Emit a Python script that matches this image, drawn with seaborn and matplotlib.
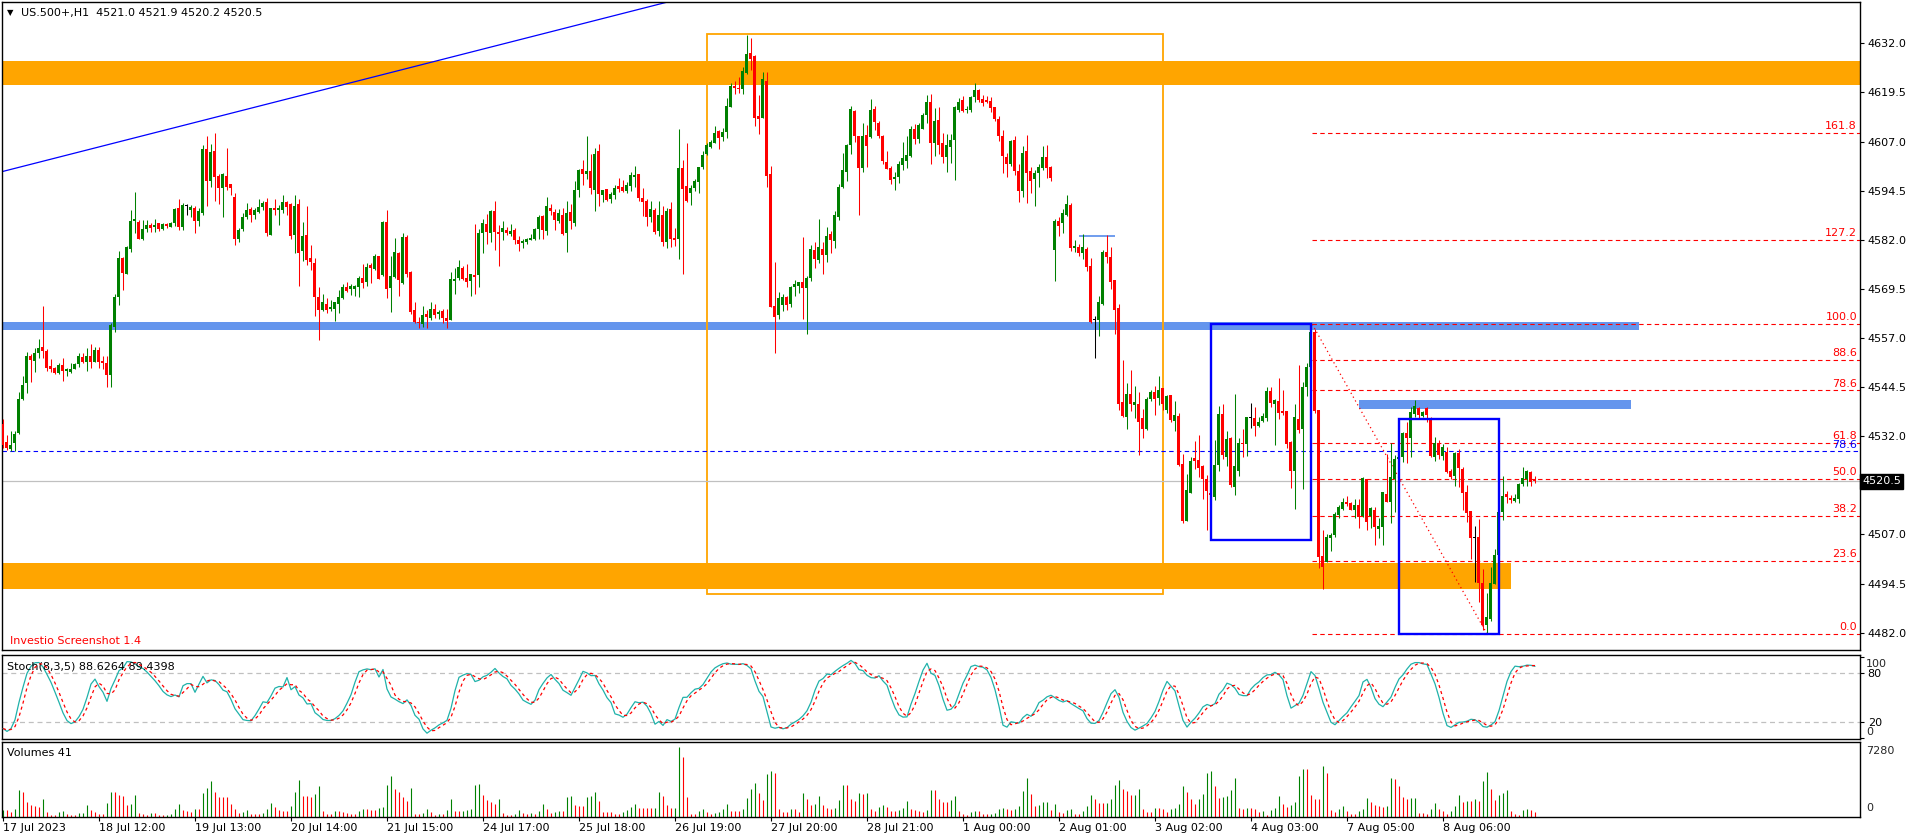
import numpy as np
import pandas as pd
import matplotlib
matplotlib.use("Agg")
import matplotlib.pyplot as plt
from matplotlib.patches import Rectangle
from matplotlib.transforms import blended_transform_factory
import seaborn as sns

# === PRICE DATA (US.500+, H1), one value per bar ===
opens = [
    4535.1, 4530.6, 4528.7, 4530.2, 4532.7, 4541.6, 4545.5, 4552.4, 4551.2, 4553.3,
    4554.6, 4553.8, 4549.9, 4549.4, 4548.2, 4550.1, 4548.7, 4548.4, 4549.2, 4550.3,
    4552.2, 4551.0, 4552.4, 4551.0, 4554.0, 4551.2, 4550.7, 4547.6, 4559.7, 4567.5,
    4577.3, 4573.4, 4579.6, 4586.8, 4586.6, 4582.3, 4584.7, 4585.7, 4585.3, 4586.2,
    4584.7, 4586.0, 4585.3, 4586.2, 4590.2, 4585.3, 4590.6, 4589.6, 4590.2, 4586.8,
    4588.9, 4605.1, 4597.0, 4604.6, 4598.2, 4595.1, 4598.2, 4596.2, 4592.8, 4582.3,
    4584.7, 4587.9, 4589.7, 4588.3, 4589.1, 4590.4, 4591.7, 4583.2, 4590.2, 4589.6,
    4589.6, 4591.7, 4591.0, 4583.2, 4591.0, 4579.2, 4583.2, 4577.3, 4576.2, 4567.5,
    4564.1, 4565.6, 4564.4, 4564.4, 4565.6, 4567.3, 4569.9, 4569.4, 4569.4, 4570.0,
    4572.2, 4571.3, 4575.6, 4574.5, 4577.9, 4573.0, 4586.5, 4569.8, 4572.4, 4578.7,
    4571.1, 4582.7, 4573.8, 4564.1, 4561.1, 4560.6, 4563.1, 4562.2, 4564.5, 4563.1,
    4563.9, 4562.2, 4561.6, 4571.5, 4572.2, 4574.9, 4572.2, 4571.5, 4573.0, 4573.0,
    4583.8, 4586.0, 4583.8, 4589.3, 4584.0, 4584.0, 4584.5, 4583.5, 4584.5, 4581.9,
    4581.2, 4581.5, 4581.9, 4582.3, 4584.7, 4588.1, 4584.2, 4590.2, 4589.1, 4586.8,
    4588.3, 4583.8, 4589.1, 4586.3, 4594.7, 4599.9, 4598.7, 4599.5, 4594.7, 4604.6,
    4593.4, 4594.9, 4592.4, 4593.5, 4595.7, 4595.3, 4594.5, 4595.8, 4598.0, 4598.7,
    4592.7, 4591.9, 4587.7, 4589.6, 4584.2, 4588.3, 4581.4, 4589.8, 4582.5, 4582.2,
    4600.2, 4595.8, 4594.0, 4595.1, 4596.8, 4600.4, 4603.8, 4605.7, 4606.7, 4609.7,
    4608.2, 4609.3, 4615.9, 4621.0, 4620.7, 4620.4, 4624.5, 4629.4, 4628.8, 4613.5,
    4613.1, 4622.5, 4598.7, 4565.1, 4562.8, 4565.4, 4567.5, 4565.6, 4570.0, 4570.2,
    4571.2, 4569.8, 4572.2, 4579.4, 4576.8, 4579.6, 4578.1, 4583.5, 4581.8, 4587.9,
    4595.3, 4599.3, 4606.1, 4614.8, 4608.4, 4600.3, 4608.6, 4608.2, 4615.3, 4611.8,
    4608.4, 4601.9, 4600.3, 4597.4, 4597.9, 4601.0, 4602.1, 4603.3, 4610.2, 4607.6,
    4610.3, 4613.7, 4617.1, 4606.7, 4612.5, 4606.5, 4603.0, 4605.7, 4607.4, 4615.0,
    4617.6, 4615.0, 4615.0, 4618.4, 4620.1, 4617.7, 4617.6, 4617.3, 4615.7, 4612.7,
    4608.5, 4603.0, 4601.3, 4607.4, 4599.6, 4594.5, 4604.6, 4599.5, 4597.5, 4599.1,
    4600.2, 4603.0, 4600.4, 4579.4, 4586.8, 4586.2, 4588.3, 4590.8, 4580.0, 4580.1,
    4578.5, 4579.6, 4575.3, 4561.7, 4561.7, 4565.6, 4579.0, 4577.5, 4571.8, 4564.7,
    4540.6, 4537.0, 4542.7, 4539.9, 4540.2, 4536.7, 4533.8, 4541.6, 4543.2, 4541.8,
    4544.2, 4538.8, 4542.5, 4535.9, 4537.1, 4524.9, 4510.5, 4517.6, 4526.5, 4525.9,
    4524.4, 4521.1, 4517.6, 4516.6, 4524.7, 4537.7, 4526.8, 4531.6, 4519.2, 4523.2,
    4530.4, 4530.0, 4536.6, 4536.6, 4534.6, 4536.0, 4536.7, 4543.5, 4540.2, 4541.0,
    4538.4, 4538.4, 4530.6, 4523.2, 4536.4, 4533.8, 4544.4, 4549.7, 4558.6, 4538.7,
    4501.5, 4500.1, 4506.0, 4506.9, 4512.0, 4513.5, 4515.3, 4514.9, 4513.2, 4514.5,
    4511.7, 4521.1, 4511.8, 4513.2, 4508.4, 4509.0, 4517.3, 4515.3, 4521.1, 4526.1,
    4526.8, 4532.7, 4531.5, 4537.6, 4539.3, 4537.2, 4539.1, 4536.4, 4526.8, 4530.4,
    4527.0, 4528.1, 4523.2, 4521.9, 4527.8, 4523.7, 4517.7, 4513.0, 4506.0, 4506.3,
    4494.6, 4484.0, 4485.4, 4494.3, 4501.8, 4512.6, 4517.3, 4516.4, 4515.6, 4516.0,
    4519.8, 4521.1, 4522.8, 4521.0,
]
highs = [
    4536.4, 4532.3, 4533.3, 4533.4, 4543.2, 4547.3, 4553.5, 4552.9, 4554.4, 4556.7,
    4565.1, 4554.2, 4551.6, 4549.7, 4550.6, 4551.8, 4549.3, 4550.6, 4550.6, 4553.1,
    4553.3, 4554.4, 4555.5, 4554.8, 4554.8, 4552.4, 4552.4, 4560.7, 4568.2, 4579.1,
    4577.7, 4580.5, 4589.6, 4594.1, 4587.0, 4587.0, 4587.0, 4586.3, 4587.4, 4586.3,
    4586.3, 4586.3, 4586.6, 4590.2, 4592.4, 4591.3, 4591.1, 4590.8, 4590.6, 4590.2,
    4606.1, 4608.5, 4606.4, 4609.2, 4598.7, 4599.1, 4605.3, 4596.3, 4593.8, 4585.1,
    4588.9, 4591.3, 4590.4, 4590.0, 4592.3, 4591.8, 4592.5, 4590.2, 4592.4, 4590.8,
    4593.4, 4591.8, 4591.3, 4593.5, 4592.4, 4586.4, 4590.6, 4580.7, 4577.3, 4570.0,
    4568.2, 4567.3, 4566.7, 4566.1, 4569.1, 4570.7, 4571.2, 4570.7, 4570.5, 4572.8,
    4575.8, 4576.2, 4576.0, 4578.4, 4577.9, 4586.8, 4589.6, 4577.9, 4582.5, 4578.9,
    4583.8, 4583.2, 4574.0, 4566.2, 4562.4, 4565.1, 4564.1, 4566.2, 4565.6, 4564.1,
    4564.4, 4564.4, 4573.9, 4574.7, 4576.8, 4575.4, 4575.8, 4573.4, 4586.0, 4584.7,
    4587.3, 4588.5, 4589.6, 4591.8, 4585.7, 4586.8, 4585.3, 4586.0, 4584.9, 4582.9,
    4582.3, 4582.5, 4583.5, 4585.1, 4588.3, 4588.3, 4592.8, 4591.0, 4589.8, 4589.7,
    4590.2, 4591.9, 4591.1, 4596.9, 4600.0, 4602.3, 4608.4, 4603.8, 4605.4, 4606.4,
    4594.7, 4594.9, 4594.1, 4595.9, 4597.6, 4597.2, 4596.6, 4599.2, 4600.8, 4598.7,
    4595.1, 4592.4, 4591.9, 4590.0, 4591.9, 4590.6, 4590.2, 4591.5, 4584.9, 4610.2,
    4602.3, 4606.7, 4595.9, 4597.4, 4600.6, 4604.6, 4606.5, 4607.4, 4610.9, 4609.9,
    4610.5, 4618.0, 4622.0, 4622.4, 4623.5, 4625.9, 4634.1, 4633.4, 4629.0, 4618.8,
    4624.8, 4624.6, 4600.8, 4576.4, 4568.8, 4568.1, 4567.8, 4570.2, 4571.7, 4571.3,
    4582.8, 4572.9, 4580.7, 4581.5, 4587.2, 4581.5, 4585.3, 4584.3, 4589.2, 4596.2,
    4604.2, 4606.4, 4616.1, 4615.0, 4608.4, 4611.8, 4611.2, 4617.8, 4616.0, 4612.2,
    4608.7, 4604.6, 4600.8, 4599.3, 4602.1, 4607.0, 4608.4, 4611.0, 4611.4, 4611.8,
    4614.2, 4618.8, 4619.1, 4615.4, 4615.7, 4609.2, 4608.8, 4608.9, 4616.0, 4618.0,
    4618.6, 4616.0, 4618.6, 4622.0, 4620.3, 4618.8, 4618.6, 4618.2, 4615.9, 4613.5,
    4609.8, 4604.0, 4607.4, 4608.5, 4601.3, 4605.9, 4608.6, 4600.6, 4599.7, 4601.3,
    4605.9, 4606.1, 4600.8, 4587.2, 4587.7, 4589.8, 4593.4, 4591.3, 4581.9, 4580.9,
    4583.5, 4580.1, 4577.3, 4562.6, 4567.7, 4579.4, 4583.2, 4580.1, 4571.8, 4565.6,
    4551.4, 4545.6, 4548.8, 4544.8, 4543.2, 4538.9, 4542.1, 4543.8, 4544.8, 4547.3,
    4544.2, 4542.5, 4542.5, 4541.0, 4537.8, 4527.5, 4522.4, 4526.6, 4530.8, 4532.3,
    4524.8, 4522.1, 4517.9, 4531.0, 4539.7, 4540.2, 4533.4, 4531.7, 4542.7, 4531.6,
    4533.8, 4537.0, 4540.4, 4539.4, 4537.0, 4538.0, 4544.4, 4544.4, 4541.6, 4546.7,
    4543.8, 4538.4, 4530.8, 4540.2, 4550.1, 4545.9, 4550.7, 4560.3, 4559.2, 4538.7,
    4508.1, 4507.1, 4507.3, 4512.6, 4514.5, 4516.4, 4516.8, 4515.2, 4515.9, 4515.9,
    4521.7, 4521.1, 4514.1, 4514.1, 4511.1, 4517.7, 4527.5, 4530.2, 4527.2, 4527.3,
    4533.2, 4535.7, 4539.5, 4541.2, 4539.5, 4538.5, 4539.5, 4537.0, 4531.7, 4531.0,
    4530.0, 4529.3, 4523.7, 4528.1, 4528.7, 4524.2, 4519.6, 4513.0, 4509.2, 4510.9,
    4498.2, 4492.0, 4498.8, 4503.3, 4513.0, 4521.9, 4518.1, 4517.0, 4517.3, 4520.0,
    4524.1, 4523.4, 4523.1, 4521.9,
]
lows = [
    4528.9, 4528.5, 4528.3, 4528.2, 4532.5, 4541.2, 4543.1, 4545.9, 4548.4, 4551.8,
    4551.8, 4548.7, 4548.4, 4547.8, 4547.8, 4546.1, 4547.3, 4548.2, 4549.0, 4549.7,
    4550.6, 4548.7, 4549.4, 4550.8, 4549.4, 4549.0, 4544.6, 4544.6, 4558.4, 4565.4,
    4569.2, 4573.3, 4579.0, 4583.6, 4582.1, 4581.9, 4584.0, 4584.0, 4584.0, 4584.2,
    4584.6, 4585.1, 4585.2, 4585.6, 4584.5, 4584.6, 4588.3, 4587.9, 4583.8, 4585.5,
    4588.3, 4590.6, 4595.5, 4591.9, 4591.0, 4587.9, 4594.7, 4593.4, 4580.7, 4581.5,
    4584.3, 4587.4, 4586.6, 4587.4, 4588.9, 4589.6, 4583.0, 4583.2, 4588.3, 4585.7,
    4588.9, 4588.3, 4582.3, 4578.7, 4570.2, 4576.7, 4575.6, 4574.3, 4562.6, 4556.5,
    4563.9, 4563.4, 4563.9, 4561.4, 4563.4, 4566.9, 4568.6, 4568.0, 4567.8, 4567.5,
    4569.8, 4570.3, 4571.1, 4574.3, 4572.0, 4572.8, 4567.2, 4563.7, 4572.2, 4567.7,
    4570.7, 4572.6, 4563.1, 4560.9, 4559.6, 4559.9, 4559.6, 4561.6, 4562.0, 4561.8,
    4560.9, 4559.6, 4561.6, 4568.2, 4571.8, 4571.8, 4570.0, 4567.8, 4568.2, 4570.0,
    4578.7, 4580.9, 4581.5, 4579.4, 4575.4, 4581.9, 4583.2, 4582.9, 4580.9, 4579.2,
    4580.0, 4580.9, 4581.9, 4581.9, 4582.3, 4582.2, 4583.2, 4588.3, 4584.5, 4586.2,
    4583.2, 4578.9, 4584.7, 4585.5, 4593.0, 4595.9, 4597.5, 4593.6, 4589.3, 4590.6,
    4591.7, 4591.9, 4591.4, 4592.4, 4594.1, 4594.1, 4594.0, 4594.5, 4595.5, 4591.9,
    4588.1, 4585.5, 4586.6, 4583.5, 4582.9, 4580.4, 4580.0, 4580.2, 4580.5, 4577.1,
    4573.3, 4591.7, 4590.8, 4594.4, 4594.0, 4599.9, 4603.6, 4605.3, 4606.5, 4605.0,
    4607.1, 4607.8, 4615.7, 4619.1, 4619.3, 4619.1, 4624.1, 4625.2, 4611.0, 4608.9,
    4612.9, 4595.5, 4565.0, 4553.3, 4561.8, 4563.9, 4564.1, 4565.0, 4567.7, 4568.5,
    4561.9, 4557.9, 4571.6, 4574.7, 4576.2, 4573.3, 4576.4, 4578.7, 4579.8, 4586.9,
    4595.1, 4597.0, 4603.8, 4607.0, 4588.3, 4599.3, 4600.6, 4607.8, 4609.8, 4607.8,
    4601.2, 4599.9, 4596.2, 4594.7, 4596.5, 4599.7, 4600.3, 4603.1, 4606.4, 4606.7,
    4610.1, 4611.8, 4601.3, 4603.3, 4603.7, 4601.6, 4599.3, 4601.6, 4597.2, 4614.6,
    4614.6, 4614.2, 4614.6, 4617.1, 4617.1, 4616.0, 4616.7, 4614.6, 4612.3, 4607.2,
    4599.1, 4598.0, 4600.8, 4598.5, 4591.7, 4593.0, 4591.3, 4594.0, 4590.7, 4595.5,
    4599.7, 4597.6, 4597.0, 4571.6, 4583.0, 4583.6, 4588.0, 4579.2, 4579.0, 4577.9,
    4577.1, 4574.1, 4560.7, 4552.0, 4557.6, 4565.4, 4576.2, 4569.5, 4558.0, 4538.7,
    4536.8, 4533.8, 4538.5, 4536.7, 4527.2, 4531.6, 4533.6, 4541.0, 4537.4, 4539.9,
    4538.7, 4538.0, 4535.5, 4533.4, 4524.4, 4510.0, 4510.5, 4517.6, 4523.6, 4521.5,
    4516.0, 4508.1, 4516.8, 4515.8, 4523.2, 4526.2, 4524.4, 4519.2, 4517.0, 4522.0,
    4526.8, 4527.0, 4534.0, 4532.1, 4534.4, 4535.5, 4536.0, 4539.4, 4529.8, 4536.4,
    4537.4, 4528.9, 4518.9, 4513.5, 4532.7, 4518.5, 4542.2, 4549.5, 4537.8, 4498.4,
    4493.0, 4500.1, 4502.9, 4506.4, 4511.1, 4513.1, 4514.2, 4513.2, 4511.1, 4508.7,
    4511.5, 4508.2, 4508.7, 4504.3, 4506.0, 4504.3, 4515.3, 4510.0, 4512.8, 4525.5,
    4525.5, 4525.1, 4526.6, 4536.8, 4536.3, 4536.8, 4535.7, 4526.8, 4525.7, 4526.1,
    4526.0, 4522.6, 4521.1, 4519.4, 4519.2, 4513.1, 4510.3, 4500.8, 4495.0, 4489.9,
    4482.7, 4481.8, 4485.1, 4494.3, 4501.8, 4510.7, 4514.9, 4514.9, 4515.2, 4514.9,
    4519.3, 4519.4, 4519.4, 4520.2,
]
closes = [
    4529.8, 4528.9, 4529.8, 4532.6, 4541.6, 4545.0, 4552.4, 4551.4, 4553.3, 4554.4,
    4553.8, 4549.4, 4549.0, 4548.0, 4550.1, 4548.7, 4549.0, 4549.2, 4550.3, 4552.4,
    4551.0, 4552.4, 4551.0, 4554.0, 4551.0, 4550.6, 4547.6, 4560.3, 4567.5, 4577.3,
    4573.6, 4580.2, 4586.8, 4587.3, 4582.3, 4584.7, 4585.7, 4585.1, 4585.7, 4584.7,
    4586.0, 4585.6, 4586.2, 4589.8, 4585.3, 4590.8, 4590.6, 4590.4, 4586.8, 4589.4,
    4605.1, 4597.0, 4604.4, 4598.0, 4595.1, 4598.7, 4595.5, 4595.2, 4582.2, 4584.5,
    4587.9, 4589.6, 4588.3, 4589.6, 4590.4, 4591.4, 4583.6, 4590.0, 4589.6, 4590.0,
    4591.7, 4590.4, 4582.9, 4590.6, 4578.7, 4582.9, 4576.8, 4576.4, 4567.5, 4564.1,
    4566.1, 4564.1, 4565.0, 4566.1, 4567.5, 4569.9, 4569.0, 4570.2, 4570.2, 4572.2,
    4570.9, 4575.0, 4574.7, 4577.9, 4572.0, 4586.5, 4569.5, 4572.8, 4578.9, 4571.7,
    4582.7, 4573.4, 4563.6, 4561.1, 4560.9, 4562.8, 4562.4, 4564.5, 4562.8, 4563.7,
    4562.2, 4561.4, 4572.0, 4572.0, 4575.1, 4572.0, 4571.2, 4573.3, 4572.6, 4583.8,
    4586.2, 4584.0, 4589.3, 4584.0, 4583.5, 4585.0, 4583.8, 4584.2, 4581.9, 4580.9,
    4581.7, 4582.2, 4582.5, 4584.7, 4587.9, 4584.5, 4590.6, 4589.3, 4587.0, 4588.9,
    4583.5, 4588.7, 4586.8, 4594.7, 4599.7, 4598.7, 4599.5, 4595.2, 4603.8, 4593.6,
    4594.7, 4592.1, 4593.6, 4595.2, 4594.8, 4594.4, 4595.9, 4598.5, 4598.5, 4592.7,
    4591.7, 4587.9, 4589.8, 4584.0, 4588.3, 4581.4, 4589.3, 4582.3, 4581.9, 4600.2,
    4595.0, 4591.9, 4595.1, 4596.9, 4600.6, 4603.6, 4606.1, 4607.0, 4609.1, 4607.8,
    4609.3, 4616.0, 4621.1, 4620.5, 4620.4, 4624.9, 4629.3, 4627.9, 4612.9, 4612.7,
    4622.8, 4598.3, 4565.0, 4562.3, 4567.3, 4567.5, 4565.4, 4569.9, 4570.7, 4571.2,
    4569.6, 4572.2, 4579.6, 4577.1, 4580.1, 4578.1, 4583.0, 4581.9, 4588.3, 4595.3,
    4599.7, 4606.1, 4615.3, 4608.4, 4600.3, 4608.4, 4605.9, 4615.0, 4612.0, 4608.4,
    4602.1, 4600.0, 4597.2, 4598.0, 4601.3, 4602.9, 4603.6, 4610.2, 4607.6, 4611.2,
    4613.7, 4617.1, 4606.5, 4612.3, 4606.1, 4603.1, 4606.1, 4607.4, 4615.7, 4617.0,
    4614.8, 4615.3, 4618.2, 4620.1, 4617.6, 4616.9, 4617.0, 4615.6, 4612.6, 4608.5,
    4603.4, 4601.3, 4607.1, 4599.6, 4594.5, 4604.0, 4599.1, 4597.0, 4599.1, 4600.6,
    4603.0, 4600.2, 4597.8, 4586.8, 4585.6, 4588.9, 4591.1, 4580.0, 4580.4, 4578.5,
    4580.1, 4575.1, 4561.0, 4561.7, 4566.2, 4579.0, 4577.7, 4571.3, 4564.1, 4540.2,
    4537.1, 4542.7, 4540.2, 4540.6, 4535.7, 4533.8, 4541.6, 4543.3, 4541.5, 4543.8,
    4540.2, 4542.2, 4536.1, 4537.4, 4524.7, 4510.4, 4518.3, 4525.7, 4525.8, 4523.8,
    4521.0, 4518.1, 4517.0, 4524.7, 4537.7, 4527.2, 4531.3, 4519.6, 4524.4, 4530.4,
    4530.0, 4536.8, 4536.6, 4534.6, 4535.5, 4537.1, 4543.5, 4540.5, 4541.2, 4538.0,
    4537.8, 4530.0, 4523.2, 4537.0, 4533.6, 4544.4, 4549.7, 4558.4, 4538.4, 4501.3,
    4498.8, 4506.4, 4506.9, 4512.1, 4514.1, 4515.3, 4514.7, 4513.2, 4514.5, 4511.4,
    4521.3, 4510.3, 4513.8, 4509.0, 4509.2, 4517.7, 4515.3, 4521.5, 4526.2, 4526.8,
    4532.7, 4531.5, 4538.1, 4539.7, 4537.4, 4538.2, 4537.4, 4527.0, 4530.2, 4527.2,
    4529.3, 4523.0, 4521.5, 4527.8, 4523.8, 4517.6, 4512.4, 4506.0, 4506.0, 4494.6,
    4484.0, 4486.1, 4494.6, 4501.8, 4512.8, 4516.8, 4516.6, 4515.8, 4516.4, 4519.8,
    4521.3, 4523.2, 4520.4, 4520.5,
]
volumes = [
    690, 690, 520, 870, 2770, 2600, 1560, 1280, 1110, 1040,
    1910, 520, 240, 240, 520, 590, 350, 170, 170, 420,
    450, 1280, 690, 520, 350, 350, 1460, 2600, 2600, 2250,
    2150, 1210, 1390, 2250, 450, 350, 170, 450, 450, 240,
    170, 240, 350, 800, 1390, 690, 620, 520, 870, 800,
    2500, 3050, 3710, 2600, 2080, 2080, 2080, 1390, 870, 420,
    520, 690, 350, 280, 280, 450, 800, 1490, 1040, 690,
    620, 620, 1110, 2600, 3810, 2180, 2180, 2080, 2430, 3190,
    620, 350, 280, 620, 620, 520, 450, 350, 350, 620,
    800, 800, 690, 690, 970, 1040, 3290, 4230, 2880, 2600,
    2080, 1660, 3020, 350, 280, 450, 800, 520, 240, 350,
    350, 690, 1910, 620, 590, 620, 760, 800, 3360, 3470,
    2250, 1730, 1560, 1390, 1910, 450, 240, 240, 350, 690,
    450, 350, 420, 350, 620, 1320, 870, 420, 520, 620,
    620, 2080, 2150, 1210, 1110, 1110, 2080, 2150, 2600, 1660,
    520, 520, 520, 280, 280, 520, 690, 1000, 1390, 970,
    970, 970, 940, 960, 2600, 2150, 1280, 940, 970, 7280,
    6170, 2050, 350, 340, 620, 800, 520, 350, 420, 520,
    800, 1390, 620, 610, 600, 870, 2010, 2880, 3500, 2500,
    1730, 4440, 4750, 4580, 870, 520, 510, 870, 800, 520,
    2460, 1910, 1210, 1390, 2150, 1210, 940, 870, 970, 1730,
    3360, 3290, 1840, 1630, 2530, 2390, 2530, 800, 590, 1040,
    1210, 1030, 620, 610, 760, 970, 1630, 870, 760, 620,
    520, 690, 2840, 2800, 1840, 1560, 1550, 1730, 2150, 620,
    350, 170, 520, 660, 620, 350, 280, 350, 420, 800,
    970, 870, 760, 870, 1110, 2670, 4090, 2360, 1140, 1280,
    1560, 1580, 690, 1320, 520, 450, 690, 800, 350, 340,
    620, 1110, 2320, 1840, 1460, 1450, 1460, 1910, 3290, 3810,
    2880, 2670, 2250, 2260, 2950, 870, 520, 510, 940, 930,
    800, 520, 870, 940, 1390, 3190, 2600, 1840, 1320, 1910,
    2430, 4580, 4750, 3220, 2010, 2080, 2150, 2770, 4090, 940,
    800, 970, 960, 870, 520, 620, 240, 690, 970, 2150,
    1320, 1040, 1210, 1560, 4230, 4960, 4950, 2250, 1840, 1840,
    5270, 4580, 690, 520, 800, 1110, 620, 350, 350, 620,
    870, 2010, 1560, 1210, 1110, 1040, 1110, 4090, 3920, 3190,
    2080, 1840, 1980, 2010, 420, 410, 350, 800, 1460, 870,
    620, 350, 620, 1110, 2320, 1560, 1670, 1670, 1840, 1670,
    3710, 4650, 2950, 1810, 2250, 2500, 2770, 590, 350, 240,
    760, 870, 690, 520,
]

# === X AXIS LABELS (one every 24 bars) ===
date_labels = ["17 Jul 2023", "18 Jul 12:00", "19 Jul 13:00", "20 Jul 14:00",
               "21 Jul 15:00", "24 Jul 17:00", "25 Jul 18:00", "26 Jul 19:00",
               "27 Jul 20:00", "28 Jul 21:00", "1 Aug 00:00", "2 Aug 01:00",
               "3 Aug 02:00", "4 Aug 03:00", "7 Aug 05:00", "8 Aug 06:00"]
label_bars = list(range(0, 24 * len(date_labels), 24))

# === DRAWN OBJECTS (bar index, price) ===
trend_line = [(-0.75, 4599.2), (165.0, 4642.2)]
orange_zones = [(-1.0, 470.0, 4621.4, 4627.5), (-1.0, 376.9, 4493.1, 4499.7)]
blue_zones = [(-1.0, 409.0, 4559.0, 4561.1), (339.0, 407.0, 4539.0, 4541.2)]
orange_box = (175.9, 289.9, 4491.9, 4634.3)
blue_boxes = [(302.0, 327.0, 4505.6, 4560.6), (349.0, 374.0, 4481.75, 4536.5)]
short_line = (269.0, 278.0, 4583.0)
fib_x = (327.3, 371.0)
fib_prices = (4560.5, 4481.7)
fib_levels = [0.0, 23.6, 38.2, 50.0, 61.8, 78.6, 88.6, 100.0, 127.2, 161.8]
blue_level, blue_level_name = 4528.3, "78.6"
bid = 4520.5
header = "US.500+,H1  4521.0 4521.9 4520.2 4520.5"
stoch_header = "Stoch(8,3,5) 88.6264 89.4398"
vol_header = "Volumes 41"
K_PERIOD, D_PERIOD, SLOWING = 8, 3, 5

GREEN, RED, BLUE = "#008000", "#FF0000", "#0000FF"
ORANGE, CORNFLOWER = "#FFA500", "#6495ED"

# === INDICATORS ===
df = pd.DataFrame({"o": opens, "h": highs, "l": lows, "c": closes, "v": volumes})
bars = np.arange(len(df))
ll = df["l"].rolling(K_PERIOD, min_periods=1).min()
hh = df["h"].rolling(K_PERIOD, min_periods=1).max()
num = (df["c"] - ll).rolling(SLOWING, min_periods=1).sum()
den = (hh - ll).rolling(SLOWING, min_periods=1).sum()
stoch_main = 100 * num / den
stoch_signal = stoch_main.rolling(D_PERIOD, min_periods=1).mean()

# === FIGURE ===
sns.set_theme(style="white")
plt.rcParams["font.family"] = ["DejaVu Sans"]
plt.rcParams["font.size"] = 8

W, H = 1916, 840
fig = plt.figure(figsize=(W / 100, H / 100), dpi=100, facecolor="white")


def panel(x0, y0, x1, y1):
    # pixel box measured from the top-left of the screenshot
    return fig.add_axes([x0 / W, 1 - y1 / H, (x1 - x0) / W, (y1 - y0) / H])


ax = panel(2, 2, 1860, 650)
ax_st = panel(2, 655, 1860, 739)
ax_vol = panel(2, 742, 1860, 817)
AXW = 1858.0
XLIM = (-0.25, 464.25)

for a in (ax, ax_st, ax_vol):
    a.set_xlim(*XLIM)
    a.set_facecolor("white")
    for s in a.spines.values():
        s.set_color("black")
        s.set_linewidth(1.0)
    a.set_xticks([])

# === PRICE PANEL ===
ax.set_ylim(4477.6, 4642.5)
right_tf = blended_transform_factory(ax.transAxes, ax.transData)

for x0, x1, p0, p1 in orange_zones:
    ax.add_patch(Rectangle((x0, p0), x1 - x0, p1 - p0, color=ORANGE, lw=0, zorder=1))
for x0, x1, p0, p1 in blue_zones:
    ax.add_patch(Rectangle((x0, p0), x1 - x0, p1 - p0, color=CORNFLOWER, lw=0, zorder=1))

ox0, ox1, op0, op1 = orange_box
ax.add_patch(Rectangle((ox0, op0), ox1 - ox0, op1 - op0, fill=False, ec=ORANGE, lw=1.3, zorder=2))
for x0, x1, p0, p1 in blue_boxes:
    ax.add_patch(Rectangle((x0, p0), x1 - x0, p1 - p0, fill=False, ec=BLUE, lw=1.7, zorder=5))
ax.hlines(short_line[2], short_line[0], short_line[1], color=CORNFLOWER, lw=1.3, zorder=2)

ax.axline(trend_line[0], trend_line[1], color=BLUE, lw=0.9, zorder=2)
ax.axhline(blue_level, color=BLUE, lw=0.8, ls=(0, (4, 3)), zorder=2)
ax.axhline(bid, color="#C0C0C0", lw=0.9, zorder=2)

# fibonacci retracement
f_hi, f_lo = fib_prices
for lv in fib_levels:
    price = f_lo + (f_hi - f_lo) * lv / 100.0
    ax.hlines(price, fib_x[0], XLIM[1], color=RED, lw=0.8, linestyles=(0, (4, 3)), zorder=2)
    ax.text(1 - 3 / AXW, price + 0.45, f"{lv:.1f}", transform=right_tf, ha="right", va="bottom",
            color=RED, fontsize=8, zorder=6)
ax.text(1 - 3 / AXW, blue_level + 0.3, blue_level_name, transform=right_tf, ha="right", va="bottom",
        color=BLUE, fontsize=8, zorder=6)
ax.plot(fib_x, fib_prices, color=RED, lw=0.9, ls=(0, (1, 2.5)), zorder=2)

# candles
o = df["o"].to_numpy()
c = df["c"].to_numpy()
cols = np.where(c > o, GREEN, np.where(c < o, RED, "#000000"))
ax.vlines(bars, df["l"], df["h"], colors=cols, lw=0.75, zorder=3)
ax.bar(bars, np.maximum(np.abs(c - o), 0.25), bottom=np.minimum(o, c), width=0.75,
       color=cols, lw=0, zorder=4)

# right price scale; the 4519.5 mark sits under the bid box
ax.yaxis.tick_right()
yt = np.arange(4482.0, 4640.0, 12.5)
ax.set_yticks(yt)
ax.set_yticklabels(["" if abs(v - bid) < 2 else f"{v:.1f}" for v in yt])
ax.tick_params(axis="y", which="both", left=False, right=True, labelleft=False, labelright=True,
               direction="out", length=3, width=0.8, pad=2.5, labelsize=8, colors="black")
ax.text(1 + 2 / AXW, bid, "4520.5", transform=right_tf, ha="left", va="center", color="white",
        fontsize=8, zorder=10, clip_on=False,
        bbox=dict(boxstyle="square,pad=0.2", fc="black", ec="black"))

ax.text((10.5 - 2) / AXW, 1 - 10.5 / 648, "\u25bc", transform=ax.transAxes, ha="center",
        va="center", fontsize=6, color="black")
ax.text((21 - 2) / AXW, 1 - 10.7 / 648, header, transform=ax.transAxes, ha="left", va="center",
        fontsize=8, color="black")
ax.text(8 / AXW, 9 / 648, "Investio Screenshot 1.4", transform=ax.transAxes, ha="left",
        va="center", fontsize=8, color=RED)

# === STOCHASTIC PANEL ===
ax_st.set_ylim(-0.86, 102.1)
ax_st.axhline(80, color="#C0C0C0", lw=0.9, ls=(0, (4, 3)), zorder=1)
ax_st.axhline(20, color="#C0C0C0", lw=0.9, ls=(0, (4, 3)), zorder=1)
sns.lineplot(x=bars, y=stoch_main.to_numpy(), ax=ax_st, color="#20B2AA", linewidth=0.9,
             errorbar=None, zorder=3)
sns.lineplot(x=bars, y=stoch_signal.to_numpy(), ax=ax_st, color=RED, linewidth=0.9,
             linestyle=(0, (2.5, 2.5)), errorbar=None, zorder=4)
ax_st.set_xlabel("")
ax_st.set_ylabel("")
ax_st.set_xlim(*XLIM)
ax_st.set_xticks([])
ax_st.yaxis.tick_right()
ax_st.set_yticks([0, 20, 80, 100])
ax_st.set_yticklabels(["", "20", "80", ""])
ax_st.tick_params(axis="y", left=False, right=True, labelleft=False, labelright=True,
                  direction="out", length=3, width=0.8, pad=2.5, labelsize=8, colors="black")
st_tf = blended_transform_factory(ax_st.transAxes, ax_st.transData)
ax_st.text(1 + 6 / AXW, 91, "100", transform=st_tf, ha="left", va="center", fontsize=8)
ax_st.text(1 + 6 / AXW, 7.5, "0", transform=st_tf, ha="left", va="center", fontsize=8)
ax_st.text(5 / AXW, 0.86, stoch_header, transform=ax_st.transAxes, ha="left", va="center",
           fontsize=8, color="black")

# === VOLUME PANEL ===
vol = df["v"].to_numpy()
rising = np.r_[True, vol[1:] > vol[:-1]]
ax_vol.vlines(bars, 0, vol, colors=np.where(rising, GREEN, RED), lw=0.8)
ax_vol.set_ylim(0, 7770)
ax_vol.set_yticks([])
ax_vol.text(1 + 6 / AXW, 0.88, "7280", transform=ax_vol.transAxes, ha="left", va="center", fontsize=8)
ax_vol.text(1 + 6 / AXW, 0.12, "0", transform=ax_vol.transAxes, ha="left", va="center", fontsize=8)
ax_vol.text(5 / AXW, 0.86, vol_header, transform=ax_vol.transAxes, ha="left", va="center",
            fontsize=8, color="black")
ax_vol.set_xticks(label_bars)
ax_vol.set_xticklabels(date_labels, ha="left")
ax_vol.tick_params(axis="x", bottom=True, direction="out", length=3, width=0.8, pad=1.5,
                   labelsize=8, colors="black")

fig.savefig("out.png", dpi=100, facecolor="white")
